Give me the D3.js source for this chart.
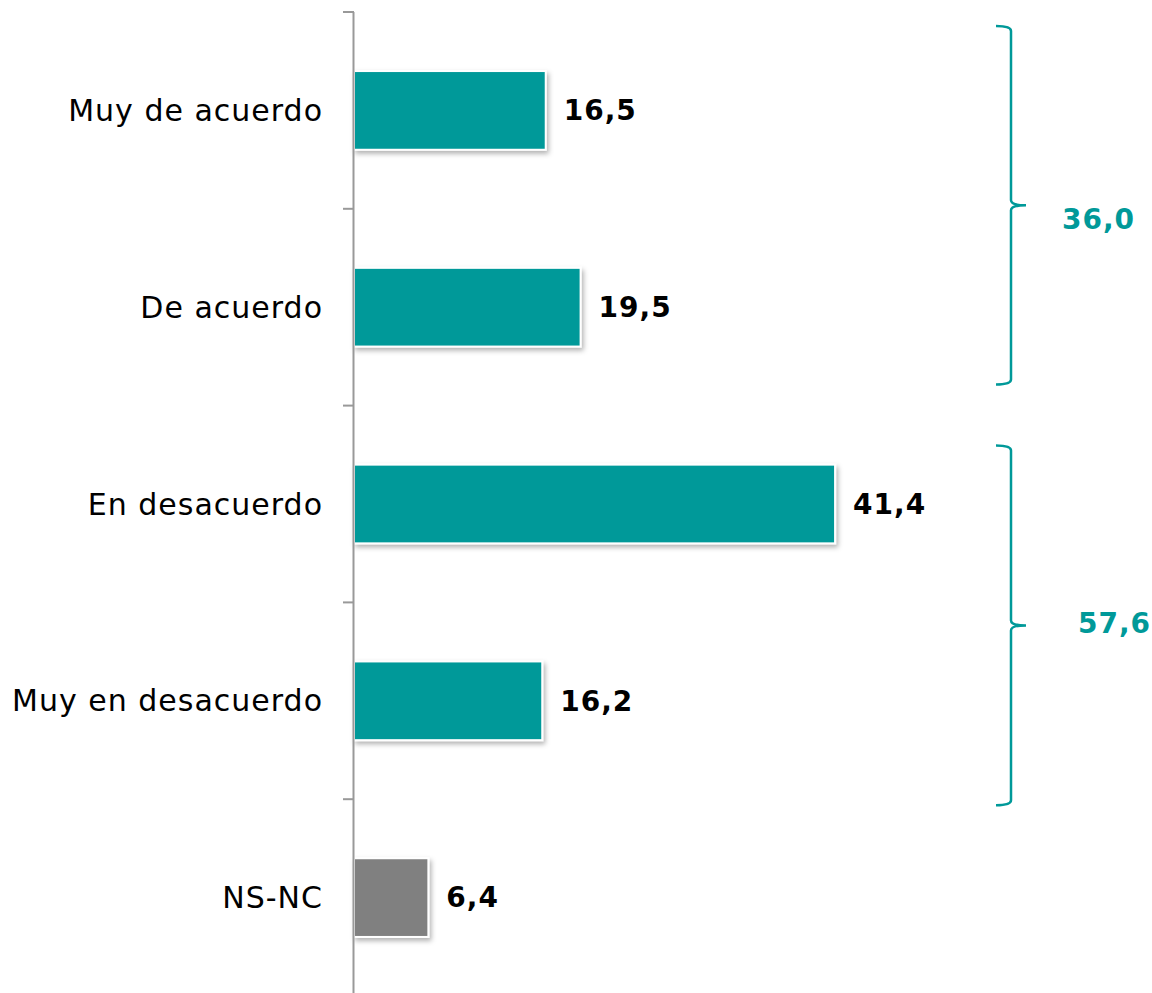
<!DOCTYPE html>
<html><head><meta charset="utf-8">
<script src="https://cdn.jsdelivr.net/npm/d3@7"></script>
<style>body{margin:0;background:#fff}svg{display:block}</style>
</head><body>
<script>
const categories = ["Muy de acuerdo","De acuerdo","En desacuerdo","Muy en desacuerdo","NS-NC"];
const values = [16.5, 19.5, 41.4, 16.2, 6.4];
const valueLabels = ["16,5","19,5","41,4","16,2","6,4"];
const barColors = ["#009999","#009999","#009999","#009999","#808080"];
const groupFrom = ["Muy de acuerdo","En desacuerdo"];
const groupTo = ["De acuerdo","Muy en desacuerdo"];
const groupLabels = ["36,0","57,6"];

const W=1152,H=993;
const FONT="DejaVu Sans, Verdana, sans-serif";
const svg=d3.select("body").append("svg").attr("width",W).attr("height",H);
const defs=svg.append("defs");
const f=defs.append("filter").attr("id","sh").attr("x","-10%").attr("y","-20%").attr("width","130%").attr("height","150%");
f.append("feDropShadow").attr("dx",2).attr("dy",3).attr("stdDeviation",2.5).attr("flood-color","#000").attr("flood-opacity",0.3);

const x0=354;
const x=d3.scaleLinear().domain([0,1]).range([x0,x0+11.62]);
const y=d3.scaleBand().domain(categories).range([12,996]).paddingInner(0.6).paddingOuter(0.3);
const yb=d3.scaleBand().domain(categories).range([12,996]);

// bars
svg.append("g").selectAll("rect").data(values).join("rect")
  .attr("x",x(0)).attr("y",(d,i)=>y(categories[i]))
  .attr("width",d=>x(d)-x(0)).attr("height",y.bandwidth())
  .attr("fill",(d,i)=>barColors[i]).attr("stroke","#fff").attr("stroke-width",2)
  .attr("filter","url(#sh)");

// axis
const ax=svg.append("g");
ax.append("line").attr("x1",x0-0.5).attr("x2",x0-0.5).attr("y1",12).attr("y2",H).attr("stroke","#999").attr("stroke-width",2);
ax.selectAll("line.t").data(categories).join("line").attr("class","t")
  .attr("x1",x0-11).attr("x2",x0).attr("y1",d=>yb(d)).attr("y2",d=>yb(d)).attr("stroke","#999").attr("stroke-width",2);

// category labels
svg.append("g").selectAll("text").data(categories).join("text")
  .attr("x",323).attr("y",d=>y(d)+y.bandwidth()/2).attr("dy","0.35em")
  .attr("text-anchor","end").attr("font-family",FONT).attr("font-size",30).attr("letter-spacing",1).attr("fill","#000")
  .text(d=>d);

// value labels
svg.append("g").selectAll("text").data(values).join("text")
  .attr("x",d=>x(d)+18).attr("y",(d,i)=>y(categories[i])+y.bandwidth()/2).attr("dy","0.35em")
  .attr("font-family",FONT).attr("font-weight","bold").attr("font-size",28).attr("letter-spacing",1).attr("fill","#000")
  .text((d,i)=>valueLabels[i]);

// braces
const bx=1011;
const topOff=[14,40], botOff=[21,-6], lblX=[1062,1078], lblDy=[14,-2];
groupFrom.forEach((g,i)=>{
  const top=yb(g)+topOff[i], bot=yb(groupTo[i])+yb.bandwidth()-botOff[i];
  const mid=(top+bot)/2;
  const p=d3.path();
  p.moveTo(bx-15,top); p.quadraticCurveTo(bx,top,bx,top+5);
  p.lineTo(bx,mid-5); p.quadraticCurveTo(bx,mid,bx+15,mid);
  p.moveTo(bx+15,mid); p.quadraticCurveTo(bx,mid,bx,mid+5);
  p.lineTo(bx,bot-5); p.quadraticCurveTo(bx,bot,bx-15,bot);
  svg.append("path").attr("d",p.toString()).attr("fill","none").attr("stroke","#009999").attr("stroke-width",2.5);
  svg.append("text").attr("x",lblX[i]).attr("y",mid+lblDy[i]).attr("dy","0.35em")
    .attr("font-family",FONT).attr("font-weight","bold").attr("font-size",28).attr("letter-spacing",1).attr("fill","#009999")
    .text(groupLabels[i]);
});
</script>
</body></html>
